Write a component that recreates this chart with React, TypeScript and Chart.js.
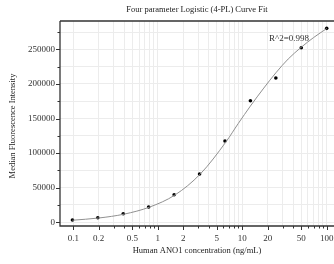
import React, { useEffect, useRef } from "react";
import { Chart, registerables } from "chart.js";

Chart.register(...registerables);

const concentrations = [0.0977, 0.195, 0.39, 0.78, 1.5625, 3.125, 6.25, 12.5, 25, 50, 100];
const intensities = [3300, 6600, 12400, 22100, 39900, 69800, 117500, 175700, 208500, 252300, 280300];

const curveX = [0.0977, 0.2, 0.4, 0.8, 1.6, 3.2, 6.4, 9, 12.5, 18, 25, 35, 50, 70, 100];
const curveY = [3000, 6200, 11800, 22000, 39500, 70000, 116000, 143000, 168000, 194000, 216000, 236000, 253000, 267000, 280000];

const xTickValues = [0.1, 0.2, 0.3, 0.4, 0.5, 0.6, 0.7, 0.8, 0.9, 1, 2, 3, 4, 5, 6, 7, 8, 9, 10, 20, 30, 40, 50, 60, 70, 80, 90, 100];
const xLabelValues = [0.1, 0.2, 0.5, 1, 2, 5, 10, 20, 50, 100];
const yTickValues = [0, 25000, 50000, 75000, 100000, 125000, 150000, 175000, 200000, 225000, 250000, 275000];

const titleText = "Four parameter Logistic (4-PL) Curve Fit";
const xTitle = "Human ANO1 concentration (ng/mL)";
const yTitle = "Median Fluorescence Intensity";
const r2Text = "R^2=0.998";

const FONT = "'Liberation Serif', 'Times New Roman', serif";

const decorPlugin = {
  id: "decor",
  afterDraw(chart: any) {
    const ctx = chart.ctx;
    const area = chart.chartArea;
    const xs = chart.scales.x;
    const ys = chart.scales.y;
    ctx.save();
    ctx.strokeStyle = "#333";
    ctx.lineWidth = 1.3;
    ctx.beginPath();
    ctx.moveTo(area.left, area.top);
    ctx.lineTo(area.left, area.bottom);
    ctx.lineTo(area.right, area.bottom);
    ctx.moveTo(area.left, area.top);
    ctx.lineTo(area.right, area.top);
    ctx.stroke();
    ctx.lineWidth = 1;
    ctx.beginPath();
    xTickValues.forEach((v) => {
      const px = Math.round(xs.getPixelForValue(v)) + 0.5;
      const len = xLabelValues.includes(v) ? 4 : 2.5;
      ctx.moveTo(px, area.bottom);
      ctx.lineTo(px, area.bottom + len);
    });
    yTickValues.forEach((v) => {
      const py = Math.round(ys.getPixelForValue(v)) + 0.5;
      const len = v % 50000 === 0 ? 4 : 2.5;
      ctx.moveTo(area.left, py);
      ctx.lineTo(area.left - len, py);
    });
    ctx.stroke();

    ctx.fillStyle = "#222";
    ctx.textAlign = "center";
    ctx.textBaseline = "middle";
    ctx.font = `8.5px ${FONT}`;
    ctx.fillText(titleText, 197, 10);
    ctx.fillText(xTitle, 197, 251);
    ctx.save();
    ctx.translate(13, 126);
    ctx.rotate(-Math.PI / 2);
    ctx.fillText(yTitle, 0, 0);
    ctx.restore();
    ctx.font = `9px ${FONT}`;
    ctx.fillStyle = "#333";
    ctx.fillText(r2Text, 289, 39);
    ctx.restore();
  },
};

export default function App() {
  const ref = useRef<HTMLCanvasElement>(null);
  useEffect(() => {
    document.body.style.margin = "0";
    const chart = new Chart(ref.current as HTMLCanvasElement, {
      type: "scatter",
      data: {
        datasets: [
          {
            type: "line",
            data: curveX.map((x, i) => ({ x, y: curveY[i] })),
            borderColor: "#909090",
            borderWidth: 1,
            pointRadius: 0,
            cubicInterpolationMode: "monotone",
            fill: false,
          } as any,
          {
            type: "scatter",
            data: concentrations.map((x, i) => ({ x, y: intensities[i] })),
            backgroundColor: "#000",
            borderColor: "#000",
            pointRadius: 1.8,
            borderWidth: 0,
          },
        ],
      },
      options: {
        responsive: false,
        animation: false,
        layout: { autoPadding: false, padding: { top: 21, right: 0, left: 0, bottom: 0 } },
        plugins: { legend: { display: false }, tooltip: { enabled: false }, title: { display: false } },
        scales: {
          x: {
            type: "logarithmic",
            min: 0.0696,
            max: 122,
            afterBuildTicks: (scale: any) => {
              scale.ticks = xTickValues.map((v) => ({ value: v }));
            },
            afterFit: (scale: any) => {
              scale.height = 38;
              scale.paddingLeft = 0;
              scale.paddingRight = 0;
            },
            grid: { color: "#ececec", lineWidth: 1, drawTicks: false },
            border: { display: false },
            ticks: {
              autoSkip: false,
              maxRotation: 0,
              padding: 7,
              color: "#333",
              font: { family: FONT, size: 9 },
              callback: (v: any) => (xLabelValues.includes(Number(v)) ? String(Number(v)) : ""),
            },
          },
          y: {
            min: -5350,
            max: 290900,
            afterBuildTicks: (scale: any) => {
              scale.ticks = yTickValues.map((v) => ({ value: v }));
            },
            afterFit: (scale: any) => {
              scale.width = 60;
              scale.paddingTop = 0;
              scale.paddingBottom = 0;
            },
            grid: { color: "#ececec", lineWidth: 1, drawTicks: false },
            border: { display: false },
            ticks: {
              autoSkip: false,
              padding: 5,
              color: "#333",
              font: { family: FONT, size: 9 },
              callback: (v: any) => (Number(v) % 50000 === 0 ? String(v) : ""),
            },
          },
        },
      },
      plugins: [decorPlugin],
    });
    return () => chart.destroy();
  }, []);
  return (
    <div style={{ width: 334, height: 264 }}>
      <canvas ref={ref} width={334} height={264} />
    </div>
  );
}
